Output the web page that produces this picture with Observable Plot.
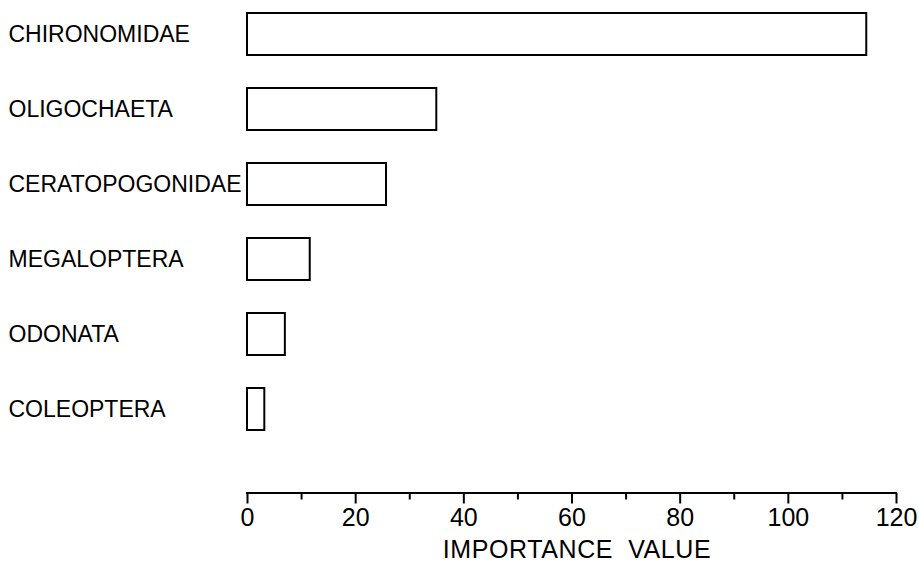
<!DOCTYPE html>
<html>
<head>
<meta charset="utf-8">
<script src="https://cdn.jsdelivr.net/npm/d3@7"></script>
<script src="https://cdn.jsdelivr.net/npm/@observablehq/plot@0.6"></script>
<style>
  html, body { margin: 0; padding: 0; background: #fff; }
  #chart svg { display: block; }
  g[aria-label="x-axis label"] text { letter-spacing: 0.6px; }
</style>
</head>
<body>
<div id="chart"></div>
<script>
const categories = ["CHIRONOMIDAE", "OLIGOCHAETA", "CERATOPOGONIDAE", "MEGALOPTERA", "ODONATA", "COLEOPTERA"];
const values = [114.5, 35.0, 25.7, 11.6, 7.0, 3.2];
const majorTicks = [0, 20, 40, 60, 80, 100, 120];
const minorTicks = [10, 30, 50, 70, 90, 110];
const xDomain = [0, 120];
const xLabel = "IMPORTANCE\u00a0\u00a0VALUE";

const data = categories.map((name, i) => ({name, value: values[i]}));

const font = "'Liberation Sans', Arial, Helvetica, sans-serif";

// axis baseline drawn from the x scale
function axisLine(index, scales, values, dimensions) {
  const y = dimensions.height - dimensions.marginBottom;
  const line = document.createElementNS("http://www.w3.org/2000/svg", "line");
  line.setAttribute("x1", scales.x(xDomain[0]) - 1);
  line.setAttribute("x2", scales.x(xDomain[1]) + 1);
  line.setAttribute("y1", y);
  line.setAttribute("y2", y);
  line.setAttribute("stroke", "#000");
  line.setAttribute("stroke-width", 2);
  return line;
}

const chart = Plot.plot({
  width: 919,
  height: 561,
  marginTop: 0,
  marginLeft: 247,
  marginRight: 23,
  marginBottom: 68,
  style: {fontFamily: font, color: "#000", background: "#fff"},
  x: {domain: xDomain},
  y: {domain: categories, range: [12, 431], paddingInner: 0.44, paddingOuter: 0, axis: null},
  marks: [
    Plot.barX(data, {y: "name", x1: 0, x2: "value", fill: "#fff", stroke: "#000", strokeWidth: 2}),
    Plot.text(data, {y: "name", text: "name", frameAnchor: "left", textAnchor: "start", dx: -239, fontSize: 23, fill: "#000"}),
    Plot.axisX({ticks: minorTicks, tickSize: 6.5, text: null, label: null, strokeWidth: 2}),
    Plot.axisX({
      ticks: majorTicks, tickSize: 10.5, tickPadding: 4, fontSize: 25, strokeWidth: 2,
      label: xLabel, labelAnchor: "center", labelArrow: "none", labelOffset: 64
    }),
    axisLine
  ]
});
const labelG = chart.querySelector('g[aria-label="x-axis label"]');
if (labelG) {
  const t = labelG.getAttribute("transform") || "";
  labelG.setAttribute("transform", (t + " translate(5,0)").trim());
}
document.getElementById("chart").appendChild(chart);
</script>
</body>
</html>
